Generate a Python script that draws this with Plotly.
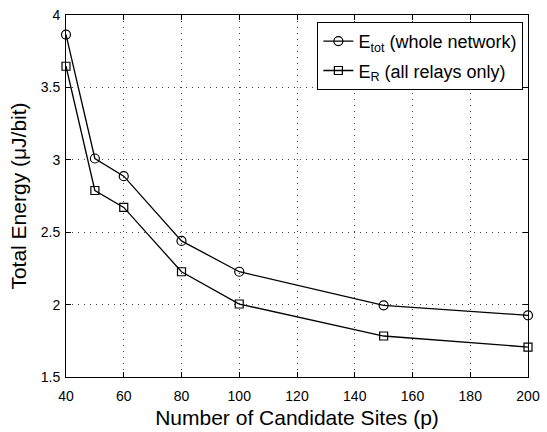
import plotly.graph_objects as go

sites = [40, 50, 60, 80, 100, 150, 200]
e_tot = [3.865, 3.009, 2.887, 2.44, 2.227, 1.995, 1.926]
e_r = [3.646, 2.788, 2.671, 2.227, 2.004, 1.783, 1.707]
x_ticks = [40, 60, 80, 100, 120, 140, 160, 180, 200]
y_ticks = [1.5, 2, 2.5, 3, 3.5, 4]
y_tick_text = ["1.5", "2", "2.5", "3", "3.5", "4"]

FONT = "Liberation Sans, Arial, Helvetica, sans-serif"

fig = go.Figure()
fig.add_trace(go.Scatter(
    x=sites, y=e_tot, mode="lines+markers",
    name="E<sub>tot</sub> (whole network)", legendgroup="a",
    line=dict(color="black", width=1.3),
    marker=dict(symbol="circle-open", size=9, color="black", line=dict(width=1.2)),
    cliponaxis=False,
))
fig.add_trace(go.Scatter(
    x=sites, y=e_r, mode="lines+markers",
    name="E<sub>R</sub> (all relays only)", legendgroup="b",
    line=dict(color="black", width=1.3),
    marker=dict(symbol="square-open", size=8, color="black", line=dict(width=1.2)),
    cliponaxis=False,
))

axis_common = dict(
    showline=True, linecolor="black", linewidth=1, mirror="ticks",
    ticks="inside", ticklen=5, tickcolor="black", tickwidth=1,
    showgrid=True, gridcolor="#444", gridwidth=1, griddash="1px,5px",
    zeroline=False, tickfont=dict(family=FONT, size=14, color="black"),
    ticklabeloverflow="allow",
)

fig.update_layout(
    width=547, height=432,
    margin=dict(l=66, r=11, t=7, b=55),
    paper_bgcolor="white", plot_bgcolor="white",
    font=dict(family=FONT, color="black"),
    showlegend=True,
    legend=dict(
        x=0.99, y=0.981, xanchor="right", yanchor="top",
        bordercolor="black", borderwidth=1, bgcolor="white",
        font=dict(family=FONT, size=18, color="black"),
        tracegroupgap=3, itemwidth=30,
    ),
    xaxis=dict(
        range=[40, 200], tickvals=x_ticks,
        title=dict(text="Number of Candidate Sites (p)", font=dict(family=FONT, size=21, color="black"), standoff=7),
        ticklabelstandoff=6,
        **axis_common,
    ),
    yaxis=dict(
        range=[1.5, 4], tickvals=y_ticks, ticktext=y_tick_text,
        title=dict(text="Total Energy (\u03bcJ/bit)", font=dict(family=FONT, size=21, color="black"), standoff=8),
        ticklabelstandoff=2,
        **axis_common,
    ),
)

fig.write_html(
    "out.html",
    config={"displayModeBar": False},
    post_script="document.body.style.margin='0px';document.body.style.padding='0px';",
)
